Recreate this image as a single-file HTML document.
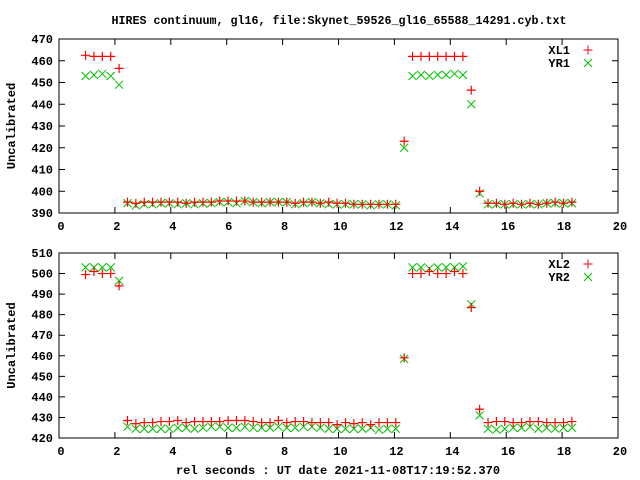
<!DOCTYPE html>
<html><head><meta charset="utf-8"><style>
html,body{margin:0;padding:0;background:#fff}
svg{display:block}
text{font-family:"Liberation Mono","DejaVu Sans Mono",monospace;font-weight:bold;font-size:12px;fill:#000}
</style></head><body>
<svg id="chart" width="640" height="480" viewBox="0 0 640 480" xmlns="http://www.w3.org/2000/svg">
<text x="339" y="24" text-anchor="middle" textLength="455" lengthAdjust="spacingAndGlyphs">HIRES continuum, gl16, file:Skynet_59526_gl16_65588_14291.cyb.txt</text>
<text x="338" y="474" text-anchor="middle">rel seconds : UT date 2021-11-08T17:19:52.370</text>
<g id="p1"></g>
<g id="p2"></g>
</svg>
<script>
const times = [0.95,1.25,1.55,1.85,2.15,2.45,2.75,3.05,3.35,3.65,3.95,4.25,4.55,4.85,5.15,5.45,5.75,6.05,6.35,6.65,6.95,7.25,7.55,7.85,8.15,8.45,8.75,9.05,9.35,9.65,9.95,10.25,10.55,10.85,11.15,11.45,11.75,12.05,12.35,12.65,12.95,13.25,13.55,13.85,14.15,14.45,14.75,15.05,15.35,15.65,15.95,16.25,16.55,16.85,17.15,17.45,17.75,18.05,18.35];
const xl1 = [462.5,462,462,462,456.5,395,394.5,395,395,395,395,395,394.5,395,395,395,395.5,395.5,395.5,395.5,395,395,395,395,395,394.5,395,395,394.5,395,394.5,394.5,394,394,394,394,394,394,423,462,462,462,462,462,462,462,446.5,400,394.5,394.5,394,394.5,394,394.5,394,394.5,395,394.5,395];
const yr1 = [453,453.5,454,453,449,394.5,393.5,394,394,394.5,394.5,394,394.5,394,394.5,394.5,395,395,394.5,395.5,395,394.5,395,395,395,394,394.5,395,394.5,394,394,394,394,394,393.5,394,394,393.5,420,453,453.5,453,453.5,453.5,454,453.5,440,399,394,394,394,394,394,394,394,394.5,394.5,394.5,394.5];
const xl2 = [499.5,501,500,500,494,428.5,427,427.5,427.5,428,428,428.5,427.5,428,428,428,428,428.5,428.5,428.5,428,427.5,427.5,428.5,427.5,428,428,427.5,427.5,427.5,426.5,427.5,427,427.5,426.5,427.5,427.5,427.5,459,500,500,501,500,500,501,500,483.5,434,427.5,428,428,427.5,427.5,428,428,427.5,427.5,427.5,428];
const yr2 = [503,503,503,503,496.5,425.5,424.5,424.5,424.5,424.5,424.5,425,425,424.5,425,425.5,425.5,425,425,425.5,425,425,425,425.5,425,425,425.5,425.5,425,424.5,424.5,424.5,424.5,424.5,425,424,424.5,424.5,458.5,503,503,502.5,503,503,503,503.5,485,431,424.5,424,424.5,425,425,425.5,424.5,425,424.5,425,425];
const xTicks = [0,2,4,6,8,10,12,14,16,18,20];
const yTicks1 = [390,400,410,420,430,440,450,460,470];
const yTicks2 = [420,430,440,450,460,470,480,490,500,510];
const NS="http://www.w3.org/2000/svg";
function mk(tag,attrs,parent){const e=document.createElementNS(NS,tag);for(const k in attrs)e.setAttribute(k,attrs[k]);parent.appendChild(e);return e;}
function panel(g,top,bot,yTicks,s1,s2,n1,n2){
  const L=59,R=618,xmin=0,xmax=20,ymin=yTicks[0],ymax=yTicks[yTicks.length-1];
  const X=v=>L+(v-xmin)/(xmax-xmin)*(R-L);
  const Y=v=>bot-(v-ymin)/(ymax-ymin)*(bot-top);
  const frame=mk('rect',{x:L,y:top,width:R-L,height:bot-top,fill:'none',stroke:'#000','stroke-width':1},g);
  
  
  xTicks.forEach(t=>{
    const x=X(t);
    const tl=mk('path',{d:`M${x} ${bot}v-6M${x} ${top}v6`,stroke:'#000'},g);
    
    
    const tx=mk('text',{x:x+2,y:bot+17,'text-anchor':'middle'},g);tx.textContent=t;
    
    
  });
  yTicks.forEach(t=>{
    const y=Y(t);
    const tl=mk('path',{d:`M${L} ${y}h6M${R} ${y}h-6`,stroke:'#000'},g);
    
    
    const tx=mk('text',{x:L-6,y:y+4,'text-anchor':'end'},g);tx.textContent=t;
    
    
  });
  const yl=mk('text',{x:0,y:0,'text-anchor':'middle',transform:`translate(15,${(top+bot)/2}) rotate(-90)`},g);
  yl.textContent='Uncalibrated';
  
  
  const plus=(x,y)=>`M${x-4.5} ${y}h9M${x} ${y-4.5}v9`;
  const cross=(x,y)=>`M${x-4} ${y-4}l8 8M${x-4} ${y+4}l8 -8`;
  let d1='',d2='';
  times.forEach((t,i)=>{d2+=cross(X(t),Y(s2[i]));d1+=plus(X(t),Y(s1[i]));});
  const m2=mk('path',{d:d2,stroke:'#00c000','stroke-width':1,fill:'none'},g);
  
  
  const m1=mk('path',{d:d1,stroke:'#ff0000','stroke-width':1.2,fill:'none'},g);
  
  
  [[n1,'#ff0000',plus,11],[n2,'#00c000',cross,24]].forEach(([n,c,f,dy])=>{
    const lt=mk('text',{x:570,y:top+dy+4,'text-anchor':'end'},g);lt.textContent=n;
    
    
    const lm=mk('path',{d:f(588,top+dy),stroke:c,fill:'none'},g);
    
    
  });
}
panel(document.getElementById('p1'),39,213,yTicks1,xl1,yr1,'XL1','YR1');
panel(document.getElementById('p2'),253,438,yTicks2,xl2,yr2,'XL2','YR2');
</script>
</body></html>
